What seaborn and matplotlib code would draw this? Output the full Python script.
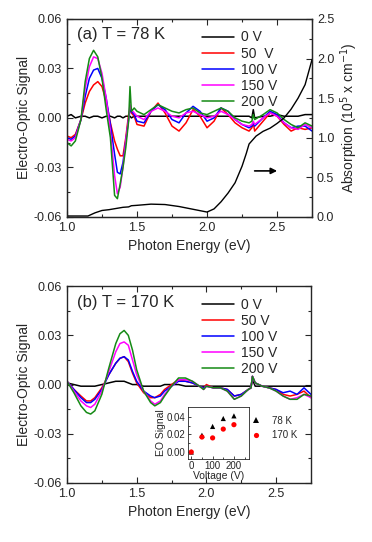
import numpy as np
import pandas as pd
import matplotlib
matplotlib.use("Agg")
import matplotlib.pyplot as plt
import seaborn as sns

# ---- data ----
voltages = [0, 50, 100, 150, 200]
labels_a = ["0 V", "50  V", "100 V", "150 V", "200 V"]
labels_b = ["0 V", "50 V", "100 V", "150 V", "200 V"]
colors = ["black", "#ff0000", "#0000ff", "#ff00ff", "#158a15"]

# panel (a), T = 78 K
energy_a = [1.00, 1.03, 1.06, 1.10, 1.13, 1.16, 1.19, 1.22, 1.25, 1.28, 1.31, 1.34,
            1.36, 1.38, 1.40, 1.42, 1.44, 1.45, 1.46, 1.48, 1.50, 1.55, 1.60, 1.65,
            1.70, 1.75, 1.80, 1.85, 1.90, 1.95, 2.00, 2.05, 2.10, 2.15, 2.20, 2.25,
            2.30, 2.32, 2.33, 2.34, 2.40, 2.45, 2.50, 2.55, 2.60, 2.65, 2.70, 2.75]
eo_a_0 = [0.001, 0.002, 0.000, 0.001, 0.001, 0.000, 0.001, 0.001, 0.000, 0.001, 0.001, 0.000,
          0.001, 0.001, 0.000, 0.001, 0.001, 0.001, 0.000, 0.001, 0.001, 0.001, 0.001, 0.001,
          0.001, 0.001, 0.001, 0.001, 0.001, 0.001, 0.001, 0.001, 0.001, 0.001, 0.001, 0.001,
          0.001, 0.000, 0.005, 0.000, 0.001, 0.001, 0.002, 0.001, 0.001, 0.001, 0.002, 0.002]
eo_a_50 = [-0.011, -0.012, -0.010, -0.001, 0.009, 0.016, 0.020, 0.022, 0.019, 0.010, -0.003, -0.014,
           -0.019, -0.023, -0.023, -0.012, 0.002, 0.005, 0.003, 0.001, -0.004, -0.005, 0.004, 0.009,
           0.003, -0.005, -0.008, -0.003, 0.005, 0.001, -0.006, -0.002, 0.006, 0.002, -0.003, -0.006,
           -0.008, -0.006, -0.003, -0.008, -0.002, 0.003, 0.001, -0.004, -0.008, -0.006, -0.007, -0.006]
eo_a_100 = [-0.012, -0.013, -0.011, -0.001, 0.013, 0.024, 0.029, 0.030, 0.024, 0.012, -0.004, -0.022,
            -0.033, -0.034, -0.027, -0.014, -0.001, 0.005, 0.004, 0.002, -0.002, -0.003, 0.004, 0.008,
            0.005, -0.001, -0.003, 0.003, 0.007, 0.004, -0.002, 0.000, 0.006, 0.004, -0.001, -0.004,
            -0.006, -0.005, -0.003, -0.005, 0.000, 0.004, 0.002, -0.003, -0.006, -0.005, -0.005, -0.008]
eo_a_150 = [-0.013, -0.014, -0.012, -0.001, 0.018, 0.031, 0.037, 0.036, 0.027, 0.012, -0.008, -0.035,
            -0.046, -0.042, -0.030, -0.014, 0.000, 0.008, 0.005, 0.003, 0.001, -0.001, 0.004, 0.006,
            0.004, 0.001, 0.000, 0.003, 0.004, 0.002, 0.000, 0.001, 0.004, 0.002, -0.001, -0.004,
            -0.005, -0.004, -0.002, -0.004, 0.000, 0.003, 0.001, -0.003, -0.006, -0.007, -0.004, -0.006]
eo_a_200 = [-0.015, -0.017, -0.014, -0.001, 0.022, 0.036, 0.041, 0.037, 0.024, 0.005, -0.012, -0.047,
            -0.049, -0.040, -0.030, -0.018, -0.002, 0.019, 0.004, 0.006, 0.004, 0.002, 0.005, 0.008,
            0.006, 0.004, 0.003, 0.005, 0.006, 0.003, 0.002, 0.004, 0.006, 0.004, 0.000, -0.002,
            -0.003, -0.002, 0.002, -0.001, 0.002, 0.005, 0.003, -0.001, -0.004, -0.006, -0.003, -0.005]

# absorption (right axis of panel a), 10^5 cm^-1
energy_abs = [1.00, 1.10, 1.15, 1.20, 1.25, 1.30, 1.40, 1.44, 1.46, 1.50, 1.60, 1.70, 1.80,
              1.90, 2.00, 2.05, 2.10, 2.15, 2.20, 2.25, 2.28, 2.30, 2.35, 2.40, 2.45, 2.50,
              2.55, 2.60, 2.65, 2.70, 2.75]
absorption = [0.01, 0.01, 0.01, 0.05, 0.08, 0.09, 0.12, 0.125, 0.14, 0.145, 0.16, 0.155, 0.13,
              0.095, 0.06, 0.10, 0.19, 0.30, 0.43, 0.64, 0.80, 0.92, 1.02, 1.08, 1.12, 1.18,
              1.25, 1.36, 1.50, 1.67, 1.99]

# panel (b), T = 170 K
energy_b = [1.00, 1.05, 1.10, 1.14, 1.17, 1.20, 1.25, 1.30, 1.35, 1.38, 1.41, 1.44, 1.47,
            1.50, 1.55, 1.60, 1.63, 1.67, 1.70, 1.75, 1.80, 1.85, 1.90, 1.95, 1.98, 2.00,
            2.05, 2.10, 2.15, 2.20, 2.25, 2.30, 2.32, 2.33, 2.35, 2.40, 2.45, 2.50, 2.55,
            2.60, 2.65, 2.70, 2.75]
eo_b_0 = [0.001, 0.000, -0.001, -0.001, -0.001, -0.001, 0.000, 0.001, 0.002, 0.002, 0.002, 0.001, 0.000,
          0.000, -0.001, -0.001, -0.001, -0.001, 0.000, 0.000, 0.000, -0.001, -0.001, -0.001, -0.001, -0.001,
          -0.001, -0.001, -0.001, -0.001, -0.001, -0.001, -0.001, 0.003, -0.001, -0.001, -0.001, -0.001, -0.001,
          -0.001, -0.001, -0.001, -0.001]
eo_b_50 = [0.002, -0.003, -0.007, -0.010, -0.010, -0.008, -0.002, 0.006, 0.013, 0.016, 0.017, 0.014, 0.007,
           0.001, -0.005, -0.008, -0.008, -0.006, -0.003, 0.000, 0.003, 0.002, 0.001, -0.001, -0.002, 0.000,
           -0.002, -0.002, -0.003, -0.007, -0.006, -0.003, -0.002, 0.005, 0.001, -0.001, -0.002, -0.003, -0.006,
           -0.007, -0.006, -0.004, -0.008]
eo_b_100 = [0.002, -0.003, -0.008, -0.011, -0.011, -0.009, -0.003, 0.006, 0.013, 0.016, 0.017, 0.015, 0.008,
            0.002, -0.004, -0.007, -0.008, -0.007, -0.004, -0.001, 0.002, 0.002, 0.001, -0.001, -0.002, -0.001,
            -0.002, -0.002, -0.003, -0.007, -0.006, -0.003, -0.002, 0.005, 0.001, -0.001, -0.002, -0.003, -0.005,
            -0.004, -0.006, -0.002, -0.006]
eo_b_150 = [0.002, -0.004, -0.010, -0.013, -0.014, -0.012, -0.004, 0.008, 0.020, 0.025, 0.026, 0.024, 0.015,
            0.006, -0.004, -0.010, -0.012, -0.010, -0.006, -0.001, 0.003, 0.003, 0.002, -0.001, -0.003, -0.001,
            -0.002, -0.002, -0.004, -0.009, -0.007, -0.003, -0.002, 0.005, 0.001, -0.001, -0.002, -0.004, -0.007,
            -0.009, -0.008, -0.006, -0.008]
eo_b_200 = [0.002, -0.005, -0.013, -0.017, -0.018, -0.016, -0.006, 0.010, 0.025, 0.031, 0.033, 0.030, 0.021,
            0.009, -0.004, -0.011, -0.013, -0.011, -0.007, -0.001, 0.004, 0.004, 0.002, -0.001, -0.003, -0.001,
            -0.002, -0.002, -0.004, -0.009, -0.007, -0.003, -0.002, 0.005, 0.001, -0.001, -0.002, -0.004, -0.007,
            -0.009, -0.009, -0.006, -0.007]

# inset: peak EO signal vs voltage
inset_voltage = [0, 50, 100, 150, 200]
inset_78K = [0.000, 0.019, 0.029, 0.038, 0.041]
inset_170K = [0.000, 0.017, 0.016, 0.026, 0.031]

# ---- long-form tables ----
df_a = pd.DataFrame({
    "energy": energy_a * 5,
    "signal": eo_a_0 + eo_a_50 + eo_a_100 + eo_a_150 + eo_a_200,
    "voltage": np.repeat(labels_a, len(energy_a)),
})
df_b = pd.DataFrame({
    "energy": energy_b * 5,
    "signal": eo_b_0 + eo_b_50 + eo_b_100 + eo_b_150 + eo_b_200,
    "voltage": np.repeat(labels_b, len(energy_b)),
})
df_in = pd.DataFrame({
    "voltage": inset_voltage * 2,
    "eo": inset_78K + inset_170K,
    "T": ["78 K"] * 5 + ["170 K"] * 5,
})

sns.set_style("ticks")
plt.rcParams["font.family"] = ["Liberation Sans", "DejaVu Sans"]
plt.rcParams["xtick.direction"] = "in"
plt.rcParams["ytick.direction"] = "in"

fig = plt.figure(figsize=(3.72, 5.42), dpi=100)
ax1 = fig.add_axes([0.180, 0.600, 0.659, 0.365])
ax2 = fig.add_axes([0.180, 0.109, 0.656, 0.363])


def style_eo_axis(ax, mirror=True):
    ax.set_xlim(1.0, 2.75)
    ax.set_ylim(-0.06, 0.06)
    ax.set_xticks([1.0, 1.5, 2.0, 2.5])
    ax.set_xticks([1.25, 1.75, 2.25, 2.75], minor=True)
    ax.set_yticks([-0.06, -0.03, 0.0, 0.03, 0.06])
    ax.set_yticks([-0.045, -0.015, 0.015, 0.045], minor=True)
    ax.set_yticklabels(["-0.06", "-0.03", "0.00", "0.03", "0.06"])
    ax.tick_params(which="both", top=True, right=mirror, labelsize=9, width=0.8)
    ax.tick_params(which="major", length=4)
    ax.tick_params(which="minor", length=2.5)
    ax.set_xlabel("Photon Energy (eV)", fontsize=10)
    ax.set_ylabel("Electro-Optic Signal", fontsize=10, labelpad=2)
    for s in ax.spines.values():
        s.set_linewidth(1.0)


# ---- panel (a) ----
sns.lineplot(data=df_a, x="energy", y="signal", hue="voltage", palette=colors,
             estimator=None, sort=False, lw=1.1, ax=ax1)
style_eo_axis(ax1, mirror=False)
sns.move_legend(ax1, "upper left", bbox_to_anchor=(0.53, 0.97), title=None,
                frameon=False, fontsize=10, handlelength=2.3, labelspacing=0.15,
                handletextpad=0.5, borderaxespad=0)
ax1.text(0.04, 0.92, "(a) T = 78 K", transform=ax1.transAxes, fontsize=12, va="center")

ax1r = ax1.twinx()
sns.lineplot(x=energy_abs, y=absorption, color="black", lw=1.0, ax=ax1r)
ax1r.set_ylim(0, 2.5)
ax1r.set_yticks([0.0, 0.5, 1.0, 1.5, 2.0, 2.5])
ax1r.set_yticks([0.25, 0.75, 1.25, 1.75, 2.25], minor=True)
ax1r.set_yticklabels(["0.0", "0.5", "1.0", "1.5", "2.0", "2.5"])
ax1r.tick_params(which="both", labelsize=9, width=0.8)
ax1r.tick_params(which="major", length=4)
ax1r.tick_params(which="minor", length=2.5)
ax1r.set_ylabel("Absorption (10$^5$ x cm$^{-1}$)", fontsize=10, labelpad=3)
ax1r.annotate("", xy=(2.52, 0.58), xytext=(2.32, 0.58),
              arrowprops=dict(arrowstyle="-|>", color="black", lw=1.2, mutation_scale=9))

# ---- panel (b) ----
sns.lineplot(data=df_b, x="energy", y="signal", hue="voltage", palette=colors,
             estimator=None, sort=False, lw=1.1, ax=ax2)
style_eo_axis(ax2, mirror=True)
sns.move_legend(ax2, "upper left", bbox_to_anchor=(0.53, 0.97), title=None,
                frameon=False, fontsize=10, handlelength=2.3, labelspacing=0.15,
                handletextpad=0.5, borderaxespad=0)
ax2.text(0.04, 0.915, "(b) T = 170 K", transform=ax2.transAxes, fontsize=12, va="center")

# ---- inset ----
axin = fig.add_axes([0.505, 0.153, 0.164, 0.096])
sns.scatterplot(data=df_in, x="voltage", y="eo", hue="T", style="T",
                palette=["black", "#ff0000"], markers=["^", "o"], s=14,
                edgecolor="none", ax=axin)
axin.set_xlim(-16, 270)
axin.set_ylim(-0.008, 0.051)
axin.set_xticks([0, 100, 200])
axin.set_xticks([50, 150, 250], minor=True)
axin.set_yticks([0.0, 0.02, 0.04])
axin.set_yticks([0.01, 0.03], minor=True)
axin.set_yticklabels(["0.00", "0.02", "0.04"])
axin.tick_params(which="both", labelsize=7, pad=1.5, width=0.6)
axin.tick_params(which="major", length=2.5)
axin.tick_params(which="minor", length=1.5)
axin.set_xlabel("Voltage (V)", fontsize=7.5, labelpad=0)
axin.set_ylabel("EO Signal", fontsize=7.5, labelpad=1)
for s in axin.spines.values():
    s.set_linewidth(0.6)
sns.move_legend(axin, "center left", bbox_to_anchor=(0.97, 0.6), title=None,
                frameon=False, fontsize=7, handlelength=1.0, handletextpad=1.2,
                labelspacing=0.45, markerscale=1.0, borderaxespad=0)

fig.savefig("out.png", dpi=100)
